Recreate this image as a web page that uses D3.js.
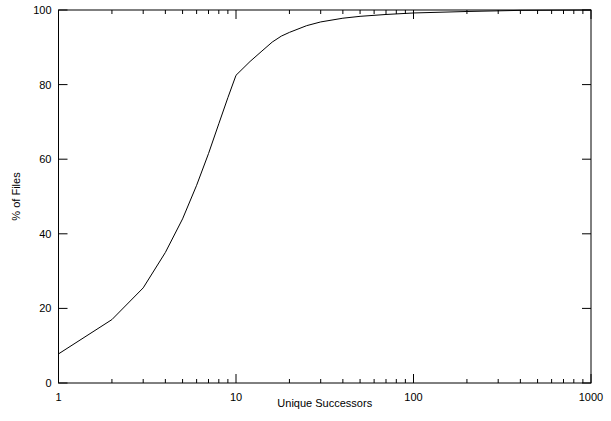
<!DOCTYPE html>
<html><head><meta charset="utf-8">
<script src="https://cdn.jsdelivr.net/npm/d3@7"></script>
<style>body{margin:0;background:#fff}text{font-family:"Liberation Sans",Arial,sans-serif;font-size:11px}</style>
</head><body><svg id="c" width="611" height="421"></svg>
<script>
var successors = [1, 2, 3, 4, 5, 6, 7, 8, 9, 10, 12, 14, 16, 18, 20, 25, 30, 40, 50, 70, 100, 200, 400, 1000];
var pctFiles = [7.8, 17, 25.5, 35, 44, 53, 61.5, 69.5, 76.5, 82.5, 86.2, 89, 91.4, 93, 94, 95.8, 96.8, 97.8, 98.3, 98.8, 99.2, 99.6, 99.9, 100];
var xTicks = [1, 10, 100, 1000];
var yTicks = [0, 20, 40, 60, 80, 100];

var svg = d3.select('#c');
var L = 58.5, R = 591, T = 10, B = 383;
var x = d3.scaleLog().domain([1, 1000]).range([L, R]);
var y = d3.scaleLinear().domain([0, 100]).range([B, T]);

var minors = [];
[1, 10, 100].forEach(function(d) { for (var k = 2; k < 10; k++) minors.push(d * k); });

var g = svg.append('g').attr('stroke', '#000').attr('stroke-width', 1);
// major and minor x ticks, bottom and top
xTicks.forEach(function(d) {
  g.append('line').attr('x1', x(d)).attr('x2', x(d)).attr('y1', B).attr('y2', B - 9);
  g.append('line').attr('x1', x(d)).attr('x2', x(d)).attr('y1', T).attr('y2', T + 9);
});
minors.forEach(function(d) {
  g.append('line').attr('x1', x(d)).attr('x2', x(d)).attr('y1', B).attr('y2', B - 4);
  g.append('line').attr('x1', x(d)).attr('x2', x(d)).attr('y1', T).attr('y2', T + 4);
});
yTicks.forEach(function(d) {
  g.append('line').attr('x1', L).attr('x2', L + 9).attr('y1', y(d)).attr('y2', y(d));
  g.append('line').attr('x1', R).attr('x2', R - 9).attr('y1', y(d)).attr('y2', y(d));
});
g.append('rect').attr('x', L).attr('y', T).attr('width', R - L).attr('height', B - T).attr('fill', 'none');

svg.selectAll('.xl').data(xTicks).enter().append('text')
  .attr('x', function(d) { return x(d); }).attr('y', B + 18).attr('text-anchor', 'middle').text(function(d) { return d; });
svg.selectAll('.yl').data(yTicks).enter().append('text')
  .attr('x', L - 7).attr('y', function(d) { return y(d) + 4; }).attr('text-anchor', 'end').text(function(d) { return d; });

svg.append('text').attr('x', (L + R) / 2).attr('y', 407).attr('text-anchor', 'middle').text('Unique Successors');
svg.append('text').attr('transform', 'translate(20,' + ((T + B) / 2) + ') rotate(-90)').attr('text-anchor', 'middle').text('% of Files');

var line = d3.line().x(function(d) { return x(d[0]); }).y(function(d) { return y(d[1]); });
svg.append('path').datum(d3.zip(successors, pctFiles)).attr('d', line)
  .attr('fill', 'none').attr('stroke', '#000').attr('stroke-width', 1);
</script></body></html>
